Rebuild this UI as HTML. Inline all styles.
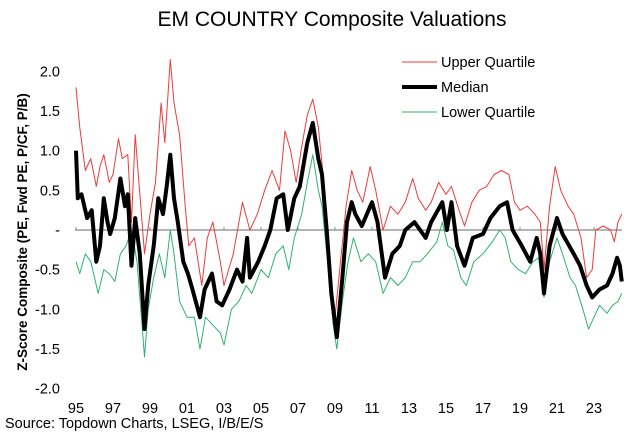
<!DOCTYPE html>
<html><head><meta charset="utf-8"><style>
body{margin:0;background:#fff;width:640px;height:437px;overflow:hidden;font-family:"Liberation Sans",Arial,sans-serif}
svg text{font-family:"Liberation Sans",Arial,sans-serif}
</style></head><body>
<svg id="chart" width="640" height="437" xmlns="http://www.w3.org/2000/svg">
<text x="332" y="26" font-size="21" text-anchor="middle" fill="#000">EM COUNTRY Composite Valuations</text>
<text transform="translate(27,232) rotate(-90)" font-size="13.5" font-weight="bold" text-anchor="middle">Z-Score Composite (PE, Fwd PE, P/CF, P/B)</text>
<g id="yticks"></g>
<g id="xticks"></g>
<line x1="75" x2="622" y1="230" y2="230" stroke="#888" stroke-width="1.2"/>
<g id="series"></g>
<g>
<line x1="402" x2="437" y1="62" y2="62" stroke="#f03a3a" stroke-width="1"/>
<text x="441" y="67" font-size="14.5">Upper Quartile</text>
<line x1="402" x2="437" y1="87" y2="87" stroke="#000" stroke-width="4"/>
<text x="441" y="92" font-size="14.5">Median</text>
<line x1="402" x2="437" y1="112" y2="112" stroke="#2eb36b" stroke-width="1"/>
<text x="441" y="117" font-size="14.5">Lower Quartile</text>
</g>
<text x="5" y="428" font-size="14.5">Source: Topdown Charts, LSEG, I/B/E/S</text>
</svg>
<script>
const yTickValues=[2.0,1.5,1.0,0.5,0,-0.5,-1.0,-1.5,-2.0];
const yTickLabels=["2.0","1.5","1.0","0.5","-","-0.5","-1.0","-1.5","-2.0"];
const xTickYears=[1995,1997,1999,2001,2003,2005,2007,2009,2011,2013,2015,2017,2019,2021,2023];
const xTickLabels=["95","97","99","01","03","05","07","09","11","13","15","17","19","21","23"];
const medianYears=[1995.0,1995.1,1995.3,1995.6,1995.85,1996.1,1996.3,1996.5,1996.7,1996.85,1997.1,1997.4,1997.65,1997.8,1998.0,1998.2,1998.45,1998.7,1998.9,1999.2,1999.45,1999.7,1999.9,2000.1,2000.3,2000.5,2000.8,2001.05,2001.3,2001.7,2001.95,2002.35,2002.6,2002.9,2003.3,2003.7,2004.0,2004.25,2004.4,2004.85,2005.2,2005.5,2005.85,2006.2,2006.45,2006.8,2007.1,2007.5,2007.8,2008.1,2008.3,2008.55,2008.8,2009.1,2009.4,2009.65,2009.9,2010.1,2010.45,2011.0,2011.3,2011.7,2012.1,2012.5,2012.8,2013.3,2013.9,2014.2,2014.8,2015.05,2015.3,2015.6,2016.0,2016.45,2017.0,2017.4,2017.9,2018.3,2018.6,2019.1,2019.55,2019.9,2020.1,2020.3,2020.6,2021.0,2021.3,2021.9,2022.25,2022.6,2022.9,2023.3,2023.7,2024.0,2024.25,2024.4,2024.5];
const medianValues=[1.0,0.4,0.45,0.15,0.25,-0.4,-0.2,0.4,0.1,-0.05,0.15,0.65,0.3,0.45,-0.45,0.15,-0.3,-1.25,-0.7,-0.2,0.4,0.2,0.55,0.95,0.4,0.1,-0.4,-0.55,-0.75,-1.1,-0.75,-0.55,-0.9,-0.95,-0.75,-0.5,-0.65,-0.1,-0.6,-0.4,-0.2,0.0,0.4,0.45,0.0,0.4,0.55,1.1,1.35,0.9,0.7,0.0,-0.8,-1.35,-0.6,0.1,0.35,0.2,0.05,0.35,0.1,-0.6,-0.3,-0.2,0.0,0.1,-0.1,0.1,0.35,0.0,0.35,-0.2,-0.45,-0.1,-0.05,0.15,0.3,0.35,0.0,-0.2,-0.4,-0.1,-0.3,-0.8,-0.2,0.15,-0.05,-0.3,-0.45,-0.7,-0.85,-0.75,-0.7,-0.55,-0.35,-0.45,-0.65];
const upperYears=[1995.0,1995.2,1995.5,1995.8,1996.1,1996.3,1996.5,1996.8,1997.0,1997.3,1997.5,1997.8,1998.0,1998.2,1998.5,1998.7,1999.0,1999.3,1999.6,1999.8,2000.1,2000.3,2000.6,2000.9,2001.1,2001.4,2001.8,2002.1,2002.4,2002.8,2003.0,2003.5,2004.0,2004.4,2004.8,2005.2,2005.6,2006.0,2006.3,2006.6,2006.9,2007.2,2007.5,2007.8,2008.1,2008.4,2008.7,2009.0,2009.3,2009.6,2009.9,2010.2,2010.5,2010.9,2011.2,2011.6,2012.0,2012.4,2012.8,2013.2,2013.5,2013.9,2014.2,2014.6,2015.0,2015.3,2015.7,2016.0,2016.4,2016.8,2017.2,2017.6,2018.0,2018.4,2018.7,2019.0,2019.4,2019.8,2020.1,2020.3,2020.6,2020.9,2021.2,2021.6,2021.9,2022.3,2022.6,2022.9,2023.1,2023.5,2023.9,2024.1,2024.3,2024.5];
const upperValues=[1.8,1.3,0.75,0.9,0.55,0.8,0.95,0.6,0.7,1.15,0.9,0.95,0.1,1.2,0.3,-0.3,0.2,0.6,1.6,1.1,2.15,1.6,1.2,0.3,-0.2,-0.1,-0.7,-0.1,0.1,-0.4,-0.7,-0.3,0.35,0.0,0.2,0.5,0.75,0.5,1.25,1.0,0.6,1.05,1.45,1.65,1.3,0.6,-0.4,-1.1,-0.4,0.3,0.75,0.5,0.35,0.8,0.5,0.0,0.3,0.2,0.35,0.65,0.4,0.25,0.35,0.6,0.45,0.55,0.25,0.05,0.35,0.5,0.55,0.7,0.75,0.7,0.35,0.25,0.3,0.2,0.1,-0.5,0.3,0.8,0.5,0.3,0.2,-0.1,-0.6,-0.5,0.0,0.05,0.0,-0.15,0.1,0.2];
const lowerYears=[1995.0,1995.2,1995.5,1995.8,1996.2,1996.5,1996.8,1997.1,1997.4,1997.7,1998.0,1998.3,1998.5,1998.7,1998.9,1999.2,1999.5,1999.8,2000.1,2000.3,2000.6,2001.0,2001.4,2001.7,2002.0,2002.4,2002.8,2003.0,2003.4,2003.8,2004.2,2004.5,2005.0,2005.4,2005.8,2006.2,2006.5,2006.8,2007.2,2007.5,2007.8,2008.1,2008.3,2008.6,2008.9,2009.1,2009.4,2009.7,2010.0,2010.4,2010.8,2011.2,2011.6,2012.0,2012.4,2012.8,2013.2,2013.6,2014.0,2014.5,2014.8,2015.1,2015.4,2015.8,2016.1,2016.5,2017.0,2017.5,2017.9,2018.2,2018.5,2018.9,2019.3,2019.7,2020.0,2020.3,2020.6,2021.0,2021.3,2021.7,2022.0,2022.4,2022.7,2023.0,2023.3,2023.7,2024.0,2024.3,2024.5];
const lowerValues=[-0.4,-0.55,-0.3,-0.4,-0.8,-0.5,-0.55,-0.65,-0.3,-0.2,0.0,-0.4,-1.0,-1.6,-1.0,-0.6,-0.3,-0.6,0.0,-0.3,-0.9,-1.1,-1.1,-1.5,-1.1,-1.2,-1.3,-1.45,-1.0,-0.9,-0.7,-0.8,-0.5,-0.6,-0.3,-0.2,-0.5,-0.1,0.2,0.6,0.95,0.5,0.3,-0.4,-1.2,-1.5,-0.9,-0.4,-0.1,-0.4,-0.3,-0.4,-0.8,-0.6,-0.7,-0.6,-0.4,-0.4,-0.3,-0.15,0.1,-0.2,-0.25,-0.6,-0.7,-0.4,-0.3,-0.15,0.0,-0.1,-0.4,-0.5,-0.55,-0.4,-0.35,-0.85,-0.4,-0.1,-0.3,-0.6,-0.7,-1.0,-1.25,-1.1,-0.95,-1.05,-0.95,-0.9,-0.8];

const NS="http://www.w3.org/2000/svg";
function xScale(yr){return 76+(yr-1995)*18.5;}
function yScale(v){return 230-v*79.3;}
const yt=document.getElementById('yticks');
yTickValues.forEach((v,i)=>{
  const t=document.createElementNS(NS,'text');
  
  
  t.setAttribute('x',60);t.setAttribute('y',yScale(v)+5);
  t.setAttribute('font-size','14.5');t.setAttribute('text-anchor','end');
  t.textContent=yTickLabels[i];yt.appendChild(t);
});
const xt=document.getElementById('xticks');
xTickYears.forEach((yr,i)=>{
  const t=document.createElementNS(NS,'text');
  
  
  t.setAttribute('x',xScale(yr));t.setAttribute('y',413);
  t.setAttribute('font-size','14.5');t.setAttribute('text-anchor','middle');
  t.textContent=xTickLabels[i];xt.appendChild(t);
  const m=document.createElementNS(NS,'line');
  
  
  m.setAttribute('x1',xScale(yr));m.setAttribute('x2',xScale(yr));
  m.setAttribute('y1',227);m.setAttribute('y2',230);
  m.setAttribute('stroke','#888');xt.appendChild(m);
});
const sg=document.getElementById('series');
function drawSeries(years,vals,color,w,name){
  const p=document.createElementNS(NS,'path');
  
  
  p.setAttribute('d',years.map((yr,i)=>(i?'L':'M')+xScale(yr).toFixed(1)+','+yScale(vals[i]).toFixed(1)).join(''));
  p.setAttribute('fill','none');p.setAttribute('stroke',color);p.setAttribute('stroke-width',w);
  p.setAttribute('stroke-linejoin','round');
  sg.appendChild(p);
}
drawSeries(upperYears,upperValues,'#f03a3a',1,'upper-quartile-line');
drawSeries(lowerYears,lowerValues,'#2eb36b',1,'lower-quartile-line');
drawSeries(medianYears,medianValues,'#000',4,'median-line');
</script>
</body></html>
